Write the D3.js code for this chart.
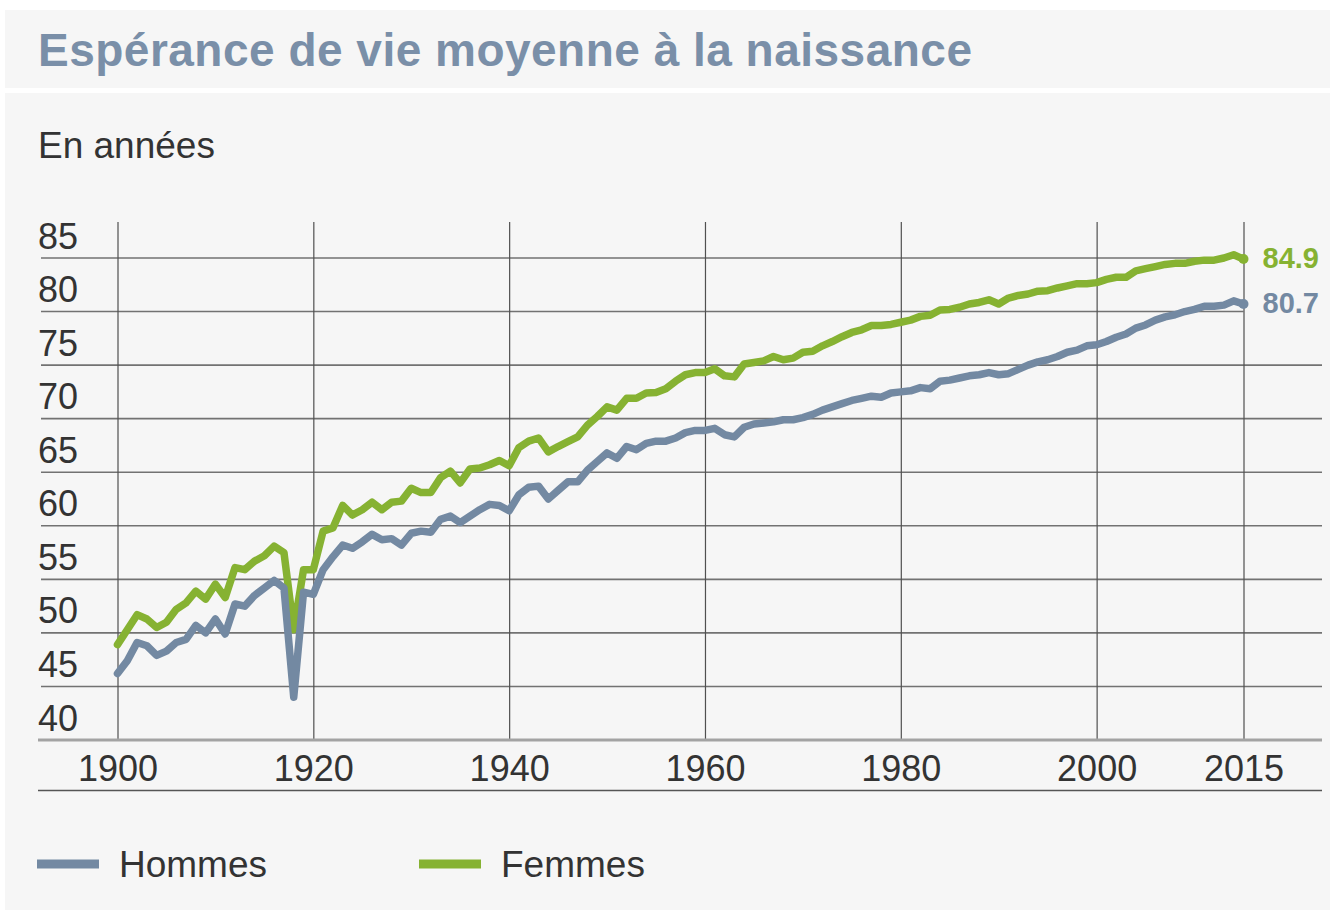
<!DOCTYPE html>
<html>
<head>
<meta charset="utf-8">
<script src="https://cdn.jsdelivr.net/npm/d3@7"></script>
<style>
  html, body { margin: 0; padding: 0; background: #ffffff; }
  svg { display: block; }
  text { font-family: "Liberation Sans", Arial, Helvetica, sans-serif; }
</style>
</head>
<body>
<svg id="chart" width="1335" height="913"></svg>
<script>
// ---------- DATA ----------
const years = d3.range(1900, 2016);

const hommes = [
  46.2, 47.4, 49.1, 48.8, 47.9, 48.3, 49.1, 49.4, 50.7, 50.0,
  51.3, 49.9, 52.7, 52.5, 53.5, 54.2, 54.9, 54.2, 44.0, 53.8,
  53.6, 55.9, 57.1, 58.2, 57.9, 58.5, 59.2, 58.7, 58.8, 58.2,
  59.3, 59.5, 59.4, 60.6, 60.9, 60.3, 60.9, 61.5, 62.0, 61.9,
  61.4, 62.9, 63.6, 63.7, 62.5, 63.3, 64.1, 64.1, 65.2, 66.0,
  66.8, 66.3, 67.4, 67.1, 67.7, 67.9, 67.9, 68.2, 68.7, 68.9,
  68.9, 69.1, 68.5, 68.3, 69.2, 69.5, 69.6, 69.7, 69.9, 69.9,
  70.1, 70.4, 70.8, 71.1, 71.4, 71.7, 71.9, 72.1, 72.0, 72.4,
  72.5, 72.6, 72.9, 72.8, 73.5, 73.6, 73.8, 74.0, 74.1, 74.3,
  74.1, 74.2, 74.6, 75.0, 75.3, 75.5, 75.8, 76.2, 76.4, 76.8,
  76.9, 77.2, 77.6, 77.9, 78.45, 78.75, 79.2, 79.5, 79.7, 80.0,
  80.2, 80.5, 80.5, 80.6, 81.0, 80.7
];

const femmes = [
  48.9, 50.3, 51.7, 51.3, 50.5, 51.0, 52.2, 52.8, 53.9, 53.15,
  54.55, 53.3, 56.1, 55.9, 56.7, 57.2, 58.1, 57.5, 50.3, 55.9,
  55.9, 59.5, 59.8, 61.9, 61.0, 61.5, 62.2, 61.5, 62.2, 62.3,
  63.5, 63.1, 63.1, 64.5, 65.1, 64.0, 65.3, 65.4, 65.7, 66.1,
  65.6, 67.3, 67.9, 68.2, 66.9, 67.4, 67.85, 68.3, 69.4, 70.2,
  71.1, 70.8, 71.9, 71.9, 72.4, 72.45, 72.8, 73.5, 74.1, 74.3,
  74.3, 74.65, 74.0, 73.9, 75.1, 75.24, 75.4, 75.8, 75.5, 75.65,
  76.2, 76.3, 76.8, 77.2, 77.65, 78.05, 78.3, 78.7, 78.7, 78.8,
  79.0, 79.2, 79.55, 79.65, 80.14, 80.2, 80.4, 80.7, 80.85, 81.1,
  80.7, 81.26, 81.5, 81.64, 81.9, 81.95, 82.2, 82.4, 82.6, 82.6,
  82.7, 83.0, 83.2, 83.2, 83.8, 84.0, 84.2, 84.4, 84.5, 84.5,
  84.7, 84.8, 84.8, 85.0, 85.3, 84.9
];

const xTicks = [1900, 1920, 1940, 1960, 1980, 2000, 2015];
const yTicks = [40, 45, 50, 55, 60, 65, 70, 75, 80, 85];
const seriesNames = ["Hommes", "Femmes"];
const endLabels = ["80.7", "84.9"];

const titleText = "Espérance de vie moyenne à la naissance";
const unitText = "En années";

// ---------- STYLE ----------
const colHommes = "#7389a2";
const colFemmes = "#86b232";
const colTitle = "#7a8fa8";
const colText = "#333333";

const svg = d3.select("#chart");

// panels
svg.append("rect").attr("x", 5).attr("y", 10).attr("width", 1325).attr("height", 78).attr("fill", "#f6f6f6");
svg.append("rect").attr("x", 5).attr("y", 93).attr("width", 1325).attr("height", 817).attr("fill", "#f6f6f6");

// scales
const x = d3.scaleLinear().domain([1900, 2015]).range([117.5, 1243.5]);
const y = d3.scaleLinear().domain([40, 85]).range([740, 258]);

// title
const title = svg.append("text")
  .attr("x", 38).attr("y", 66)
  .attr("fill", colTitle)
  .attr("font-size", 46)
  .attr("font-weight", "bold")
  .text(titleText);
{
  const w = title.node().getComputedTextLength();
  const target = 934;
  const ls = (target - w) / (titleText.length - 1);
  title.attr("letter-spacing", ls.toFixed(3));
}

svg.append("text")
  .attr("x", 38).attr("y", 158)
  .attr("fill", colText)
  .attr("font-size", 37)
  .text(unitText);

// horizontal gridlines
svg.append("g").selectAll("line")
  .data(yTicks.filter(v => v > 40))
  .join("line")
  .attr("x1", 41)
  .attr("x2", v => v >= 80 ? x(2015) : 1322)
  .attr("y1", v => y(v)).attr("y2", v => y(v))
  .attr("stroke", "#727272")
  .attr("stroke-width", 1.6);

// x axis with vertical gridlines
const xAxis = d3.axisBottom(x)
  .tickValues(xTicks)
  .tickFormat(d3.format("d"))
  .tickSizeInner(-(y(40) - 222))
  .tickSizeOuter(0);

const gx = svg.append("g").attr("transform", `translate(0,${y(40)})`).call(xAxis);
gx.select(".domain").remove();
gx.selectAll(".tick line").attr("stroke", "#505050").attr("stroke-width", 1.2);
gx.selectAll(".tick text")
  .attr("y", 41).attr("dy", 0)
  .attr("fill", colText)
  .attr("font-size", 36)
  .attr("font-family", "'Liberation Sans', Arial, Helvetica, sans-serif");

// y axis labels
const yAxis = d3.axisLeft(y).tickValues(yTicks).tickSize(0).tickFormat(d3.format("d"));
const gy = svg.append("g").attr("transform", "translate(0,0)").call(yAxis);
gy.select(".domain").remove();
gy.selectAll(".tick text")
  .attr("x", 38).attr("dy", 0).attr("y", -10)
  .attr("text-anchor", "start")
  .attr("fill", colText)
  .attr("font-size", 36)
  .attr("font-family", "'Liberation Sans', Arial, Helvetica, sans-serif");

// base axis line and bottom rule
svg.append("line").attr("x1", 38).attr("x2", 1322).attr("y1", y(40)).attr("y2", y(40))
  .attr("stroke", "#a3a3a3").attr("stroke-width", 3);
svg.append("line").attr("x1", 38).attr("x2", 1322).attr("y1", 790.5).attr("y2", 790.5)
  .attr("stroke", "#555555").attr("stroke-width", 1.5);

// lines
const line = d3.line().x((d, i) => x(years[i])).y(d => y(d));
const series = [
  { name: seriesNames[1], values: femmes, color: colFemmes, label: endLabels[1] },
  { name: seriesNames[0], values: hommes, color: colHommes, label: endLabels[0] }
];

series.forEach(s => {
  svg.append("path")
    .datum(s.values)
    .attr("d", line)
    .attr("fill", "none")
    .attr("stroke", s.color)
    .attr("stroke-width", 7.5)
    .attr("stroke-linejoin", "round")
    .attr("stroke-linecap", "round");
  const last = s.values.length - 1;
  svg.append("circle")
    .attr("cx", x(years[last])).attr("cy", y(s.values[last]))
    .attr("r", 5).attr("fill", s.color);
});

// end labels
svg.append("text").attr("x", 1319).attr("y", 268).attr("text-anchor", "end")
  .attr("fill", colFemmes).attr("font-size", 29).attr("font-weight", "bold").text(endLabels[1]);
svg.append("text").attr("x", 1319).attr("y", 313).attr("text-anchor", "end")
  .attr("fill", colHommes).attr("font-size", 29).attr("font-weight", "bold").text(endLabels[0]);

// legend
const legend = [
  { name: seriesNames[0], color: colHommes, x: 37 },
  { name: seriesNames[1], color: colFemmes, x: 419 }
];
const lg = svg.append("g");
lg.selectAll("rect").data(legend).join("rect")
  .attr("x", d => d.x).attr("y", 859.5).attr("width", 62).attr("height", 9)
  .attr("fill", d => d.color);
lg.selectAll("text").data(legend).join("text")
  .attr("x", d => d.x + 82).attr("y", 877)
  .attr("fill", colText).attr("font-size", 37)
  .text(d => d.name);
</script>
</body>
</html>
